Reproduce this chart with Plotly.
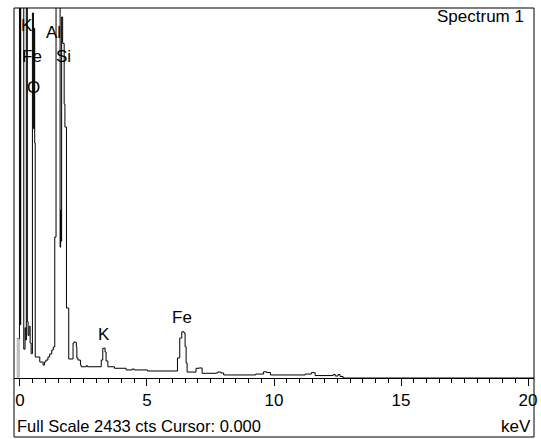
import plotly.graph_objects as go

# ---- data ----
energy_kev = [-0.03, -0.02, 0.02, 0.03, 0.15, 0.20, 0.23, 0.25, 0.29, 0.32, 0.36, 0.40, 0.44,
              0.49, 0.53, 0.56, 0.58, 0.60, 0.78, 0.91, 0.96, 1.02, 1.10, 1.17, 1.25, 1.31,
              1.37, 1.42, 1.55, 1.58, 1.60, 1.62, 1.64, 1.68, 1.74, 1.77, 1.83, 1.92,
              2.09, 2.13, 2.19, 2.22, 2.24, 2.28, 2.38, 2.41, 2.61, 2.66,
              3.20, 3.26, 3.30, 3.35, 3.39, 3.46, 3.72, 4.18, 4.42, 4.50, 5.02,
              6.20, 6.29, 6.37, 6.46, 6.50, 6.54, 6.58, 6.93, 7.05, 7.17, 7.71, 7.79, 7.91,
              8.02, 9.28, 9.59, 9.71, 9.86, 11.23, 11.47, 11.62, 12.33, 12.41, 12.52, 12.60,
              12.72, 20.30]
counts = [260, 6000, 350, 6000, 190, 330, 250, 6000, 370, 280, 340, 230, 160,
          2400, 1640, 2300, 1545, 138, 105, 85, 105, 118, 138, 158, 184, 204,
          927, 6000, 2600, 860, 1105, 900, 2374, 2200, 1800, 1650, 460, 125,
          230, 237, 233, 204, 132, 118, 85, 74, 81, 74,
          118, 195, 197, 171, 112, 74, 64, 53, 59, 53, 46,
          132, 263, 304, 296, 206, 99, 39, 64, 66, 31, 33, 39, 33,
          20, 26, 41, 36, 20, 26, 35, 16, 23, 13, 23, 10,
          0, 0]

gray_energy = [-0.13, 0.0]
gray_counts = [260, 260]

label_text = ["K", "Al", "Fe", "Si", "O", "K", "Fe"]
label_kev = [0.29, 1.33, 0.49, 1.70, 0.53, 3.29, 6.38]
label_counts = [2321, 2275, 2111, 2111, 1910, 283, 398]

full_scale = 2433
x_ticks = [0, 5, 10, 15, 20]

FONT = "Liberation Sans, Arial, sans-serif"

fig = go.Figure()
fig.add_trace(go.Scatter(x=gray_energy, y=gray_counts, mode="lines", fill="tozeroy",
                         fillcolor="#c0c0c0", line=dict(color="#909090", width=1, shape="hv"),
                         hoverinfo="skip"))
fig.add_trace(go.Scatter(x=energy_kev, y=counts, mode="lines",
                         line=dict(color="black", width=1, shape="hv")))

for t, xv, yv in zip(label_text, label_kev, label_counts):
    fig.add_annotation(x=xv, y=yv, text=t, showarrow=False, xref="x", yref="y",
                       font=dict(family=FONT, size=17, color="black"))

plot_h = 370.0
fig.add_annotation(x=0, y=(378 - 426.5) / plot_h, xref="paper", yref="paper",
                   text=f"Full Scale {full_scale} cts Cursor: 0.000", showarrow=False,
                   xanchor="left", yanchor="middle", xshift=1,
                   font=dict(family=FONT, size=16.5, color="black"))
fig.add_annotation(x=1, y=(378 - 426.5) / plot_h, xref="paper", yref="paper",
                   text="keV", showarrow=False, xanchor="right", yanchor="middle", xshift=-1,
                   font=dict(family=FONT, size=17, color="black"))
fig.add_annotation(x=(529 - 14) / 523.0, y=(378 - 16) / plot_h, xref="paper", yref="paper",
                   text="Spectrum 1", showarrow=False, xanchor="right", yanchor="middle",
                   font=dict(family=FONT, size=17, color="black"))

fig.add_shape(type="rect", xref="paper", yref="paper", x0=0, x1=1,
              y0=-(437 - 378) / plot_h, y1=1, line=dict(color="black", width=1))

fig.update_layout(
    width=541, height=439,
    margin=dict(l=14, r=4, t=8, b=61),
    paper_bgcolor="white", plot_bgcolor="white",
    showlegend=False,
    xaxis=dict(range=[-0.235, 20.235], tickvals=x_ticks, ticktext=[str(v) for v in x_ticks],
               ticks="outside", ticklen=7, tickwidth=1, tickcolor="black",
               showline=True, linecolor="black", linewidth=1, showgrid=False, zeroline=False,
               tickfont=dict(family=FONT, size=17, color="black"),
               minor=dict(dtick=0.5, tick0=0, ticks="outside", ticklen=4, tickcolor="black",
                          tickwidth=1, showgrid=False)),
    yaxis=dict(range=[0, full_scale], showticklabels=False, ticks="", showgrid=False,
               zeroline=False, showline=False),
)

fig.write_html("out.html")
